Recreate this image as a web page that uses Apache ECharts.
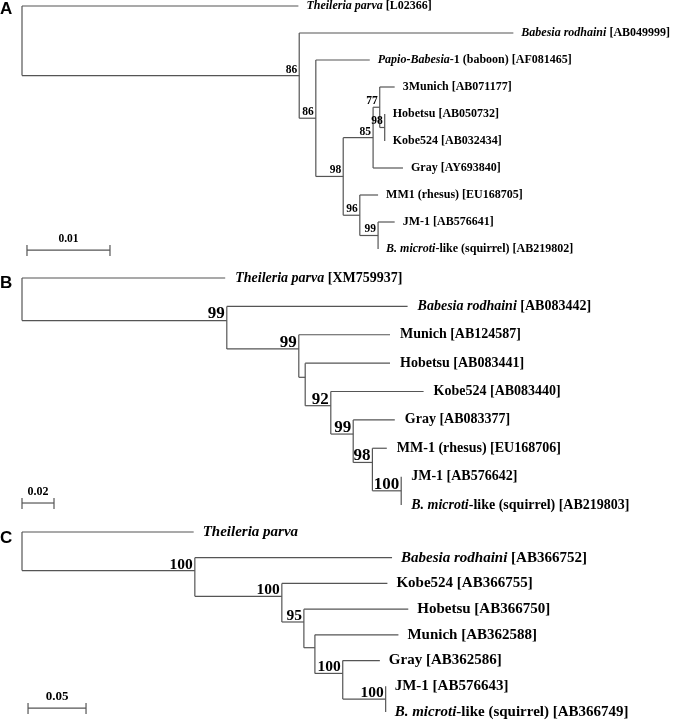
<!DOCTYPE html>
<html>
<head>
<meta charset="utf-8">
<script src="https://cdn.jsdelivr.net/npm/echarts@6/dist/echarts.min.js"></script>
<style>
  html, body { margin: 0; padding: 0; background: #fff; }
  #chart { width: 675px; height: 722px; }
</style>
</head>
<body>
<div id="chart"></div>
<script>
// leaf labels, top to bottom (*...* = italic)
const labelsA = [
  '*Theileria parva* [L02366]',
  '*Babesia rodhaini* [AB049999]',
  '*Papio-Babesia*-1 (baboon) [AF081465]',
  '3Munich [AB071177]',
  'Hobetsu [AB050732]',
  'Kobe524 [AB032434]',
  'Gray [AY693840]',
  'MM1 (rhesus) [EU168705]',
  'JM-1 [AB576641]',
  '*B. microti*-like (squirrel) [AB219802]'
]
const labelsB = [
  '*Theileria parva* [XM759937]',
  '*Babesia rodhaini* [AB083442]',
  'Munich [AB124587]',
  'Hobetsu [AB083441]',
  'Kobe524 [AB083440]',
  'Gray [AB083377]',
  'MM-1 (rhesus) [EU168706]',
  'JM-1 [AB576642]',
  '*B. microti*-like (squirrel) [AB219803]'
]
const labelsC = [
  '*Theileria parva*',
  '*Babesia rodhaini* [AB366752]',
  'Kobe524 [AB366755]',
  'Hobetsu [AB366750]',
  'Munich [AB362588]',
  'Gray [AB362586]',
  'JM-1 [AB576643]',
  '*B. microti*-like (squirrel) [AB366749]'
]

// trees: leaf = [branch length, leaf row], node = [branch length, bootstrap, [children]]
const treeA = [0, null, [
  [0.0333, 0],
  [0.0334, 86, [
    [0.0258, 1],
    [0.0020, 86, [
      [0.0065, 2],
      [0.0033, 98, [
        [0.0036, 85, [
          [0.0008, 77, [
            [0.0018, 3],
            [0.0006, 98, [[0, 4], [0, 5]]]
          ]],
          [0.0036, 6]
        ]],
        [0.0020, 96, [
          [0.0022, 7],
          [0.0022, 99, [[0.0020, 8], [0, 9]]]
        ]]
      ]]
    ]]
  ]]
]]
const treeB = [0, null, [
  [0.127, 0],
  [0.128, 99, [
    [0.113, 1],
    [0.045, 99, [
      [0.057, 2],
      [0.004, null, [
        [0.053, 3],
        [0.016, 92, [
          [0.058, 4],
          [0.014, 99, [
            [0.026, 5],
            [0.012, 98, [
              [0.009, 6],
              [0.018, 100, [[0, 7], [0, 8]]]
            ]]
          ]]
        ]]
      ]]
    ]]
  ]]
]]
const treeC = [0, null, [
  [0.148, 0],
  [0.149, 100, [
    [0.170, 1],
    [0.075, 100, [
      [0.091, 2],
      [0.019, 95, [
        [0.090, 3],
        [0.0095, null, [
          [0.072, 4],
          [0.024, 100, [
            [0.032, 5],
            [0.037, 100, [[0, 6], [0, 7]]]
          ]]
        ]]
      ]]
    ]]
  ]]
]]

// scale bar lengths
const scaleA = 0.01
const scaleB = 0.02
const scaleC = 0.05

const LINE = '#555'
const SERIF = '"Liberation Serif", "Times New Roman", serif'

const panels = [
  { letter: 'A', tree: treeA, labels: labelsA, rule: 'mid', top: 6, rowGap: 27, ppu: 8300,
    font: 12, bootFont: 11.5, bootDy: 0, gap: 8, scale: scaleA, barX: 0.0006, barRow: 9.04, barFont: 11.5, letterTop: 1 },
  { letter: 'B', tree: treeB, labels: labelsB, rule: 'split', top: 278, rowGap: 28.375, ppu: 1600,
    font: 14, bootFont: 17, bootDy: 2, gap: 10, scale: scaleB, barX: 0, barRow: 7.93, barFont: 12, letterTop: 275 },
  { letter: 'C', tree: treeC, labels: labelsC, rule: 'split', top: 532, rowGap: 25.71, ppu: 1160,
    font: 15, bootFont: 15.5, bootDy: 2, gap: 9, scale: scaleC, barX: 0.0052, barRow: 6.85, barFont: 13, letterTop: 530 }
]

const GRID_W = 640

// rectangular tree layout (x = branch length, y = leaf row)
function build(tree, rule) {
  const segs = [], tips = [], boots = []
  const topLeaf = n => n.length === 2 ? n[1] : topLeaf(n[2][0])
  function walk(n, x0) {
    const x = x0 + n[0]
    if (n.length === 2) {
      tips.push([x, n[1], n[1]])
      return { x, y: n[1] }
    }
    const kids = n[2].map(c => walk(c, x))
    const ys = kids.map(k => k.y)
    const y = rule === 'mid'
      ? (ys[0] + ys[ys.length - 1]) / 2
      : (ys[0] + topLeaf(n[2][1])) / 2
    segs.push([x, Math.min(...ys), x, Math.max(...ys)])
    kids.forEach(k => segs.push([x, k.y, k.x, k.y]))
    if (n[1] != null) boots.push([x, y, n[1]])
    return { x, y }
  }
  walk(tree, 0)
  return { segs, tips, boots }
}

const toRich = s => s.split('*').map((p, i) => p ? (i % 2 ? '{i|' + p + '}' : '{n|' + p + '}') : '').join('')

const richStyles = size => ({
  n: { fontFamily: SERIF, fontWeight: 'bold', fontSize: size, fill: '#000', fontStyle: 'normal' },
  i: { fontFamily: SERIF, fontWeight: 'bold', fontSize: size, fill: '#000', fontStyle: 'italic' }
})

const grid = [], xAxis = [], yAxis = [], series = [], graphic = []

panels.forEach((p, gi) => {
  const n = p.labels.length
  const t = build(p.tree, p.rule)
  grid.push({ left: 22, top: p.top, width: GRID_W, height: p.rowGap * (n - 1) })
  xAxis.push({ type: 'value', gridIndex: gi, min: 0, max: GRID_W / p.ppu, show: false })
  yAxis.push({ type: 'value', gridIndex: gi, min: 0, max: n - 1, inverse: true, show: false })

  // branches
  series.push({
    type: 'custom', xAxisIndex: gi, yAxisIndex: gi, silent: true, data: t.segs,
    renderItem: (params, api) => {
      const a = api.coord([api.value(0), api.value(1)])
      const b = api.coord([api.value(2), api.value(3)])
      return { type: 'line', shape: { x1: a[0], y1: a[1], x2: b[0], y2: b[1] },
        style: { stroke: LINE, lineWidth: 1.2 } }
    }
  })

  // leaf names
  series.push({
    type: 'custom', xAxisIndex: gi, yAxisIndex: gi, silent: true, data: t.tips,
    renderItem: (params, api) => {
      const c = api.coord([api.value(0), api.value(1)])
      return { type: 'text', x: c[0] + p.gap, y: c[1],
        style: { text: toRich(p.labels[api.value(2)]), rich: richStyles(p.font),
          fontFamily: SERIF, fontWeight: 'bold', fontSize: p.font,
          align: 'left', verticalAlign: 'middle' } }
    }
  })

  // bootstrap values
  series.push({
    type: 'custom', xAxisIndex: gi, yAxisIndex: gi, silent: true, data: t.boots,
    renderItem: (params, api) => {
      const c = api.coord([api.value(0), api.value(1)])
      return { type: 'text', x: c[0] - 2, y: c[1] + p.bootDy,
        style: { text: String(api.value(2)), fill: '#000',
          font: 'bold ' + p.bootFont + 'px ' + SERIF,
          align: 'right', verticalAlign: 'bottom' } }
    }
  })

  // scale bar
  series.push({
    type: 'custom', xAxisIndex: gi, yAxisIndex: gi, silent: true,
    data: [[p.barX, p.barRow, p.scale]],
    renderItem: (params, api) => {
      const a = api.coord([api.value(0), api.value(1)])
      const b = api.coord([api.value(0) + api.value(2), api.value(1)])
      const st = { stroke: LINE, lineWidth: 1.2 }
      return { type: 'group', children: [
        { type: 'line', shape: { x1: a[0], y1: a[1], x2: b[0], y2: b[1] }, style: st },
        { type: 'line', shape: { x1: a[0], y1: a[1] - 5, x2: a[0], y2: a[1] + 6 }, style: st },
        { type: 'line', shape: { x1: b[0], y1: b[1] - 5, x2: b[0], y2: b[1] + 6 }, style: st },
        { type: 'text', x: (a[0] + b[0]) / 2, y: a[1] - 5,
          style: { text: String(api.value(2)), fill: '#000', font: 'bold ' + p.barFont + 'px ' + SERIF,
            align: 'center', verticalAlign: 'bottom' } }
      ] }
    }
  })

  graphic.push({ type: 'text', left: 0, top: p.letterTop,
    style: { text: p.letter, fill: '#000', font: 'bold 17px "Liberation Sans", Arial, sans-serif' } })
})

const chart = echarts.init(document.getElementById('chart'))
chart.setOption({
  animation: false,
  backgroundColor: '#fff',
  grid, xAxis, yAxis, series, graphic
})
</script>
</body>
</html>
